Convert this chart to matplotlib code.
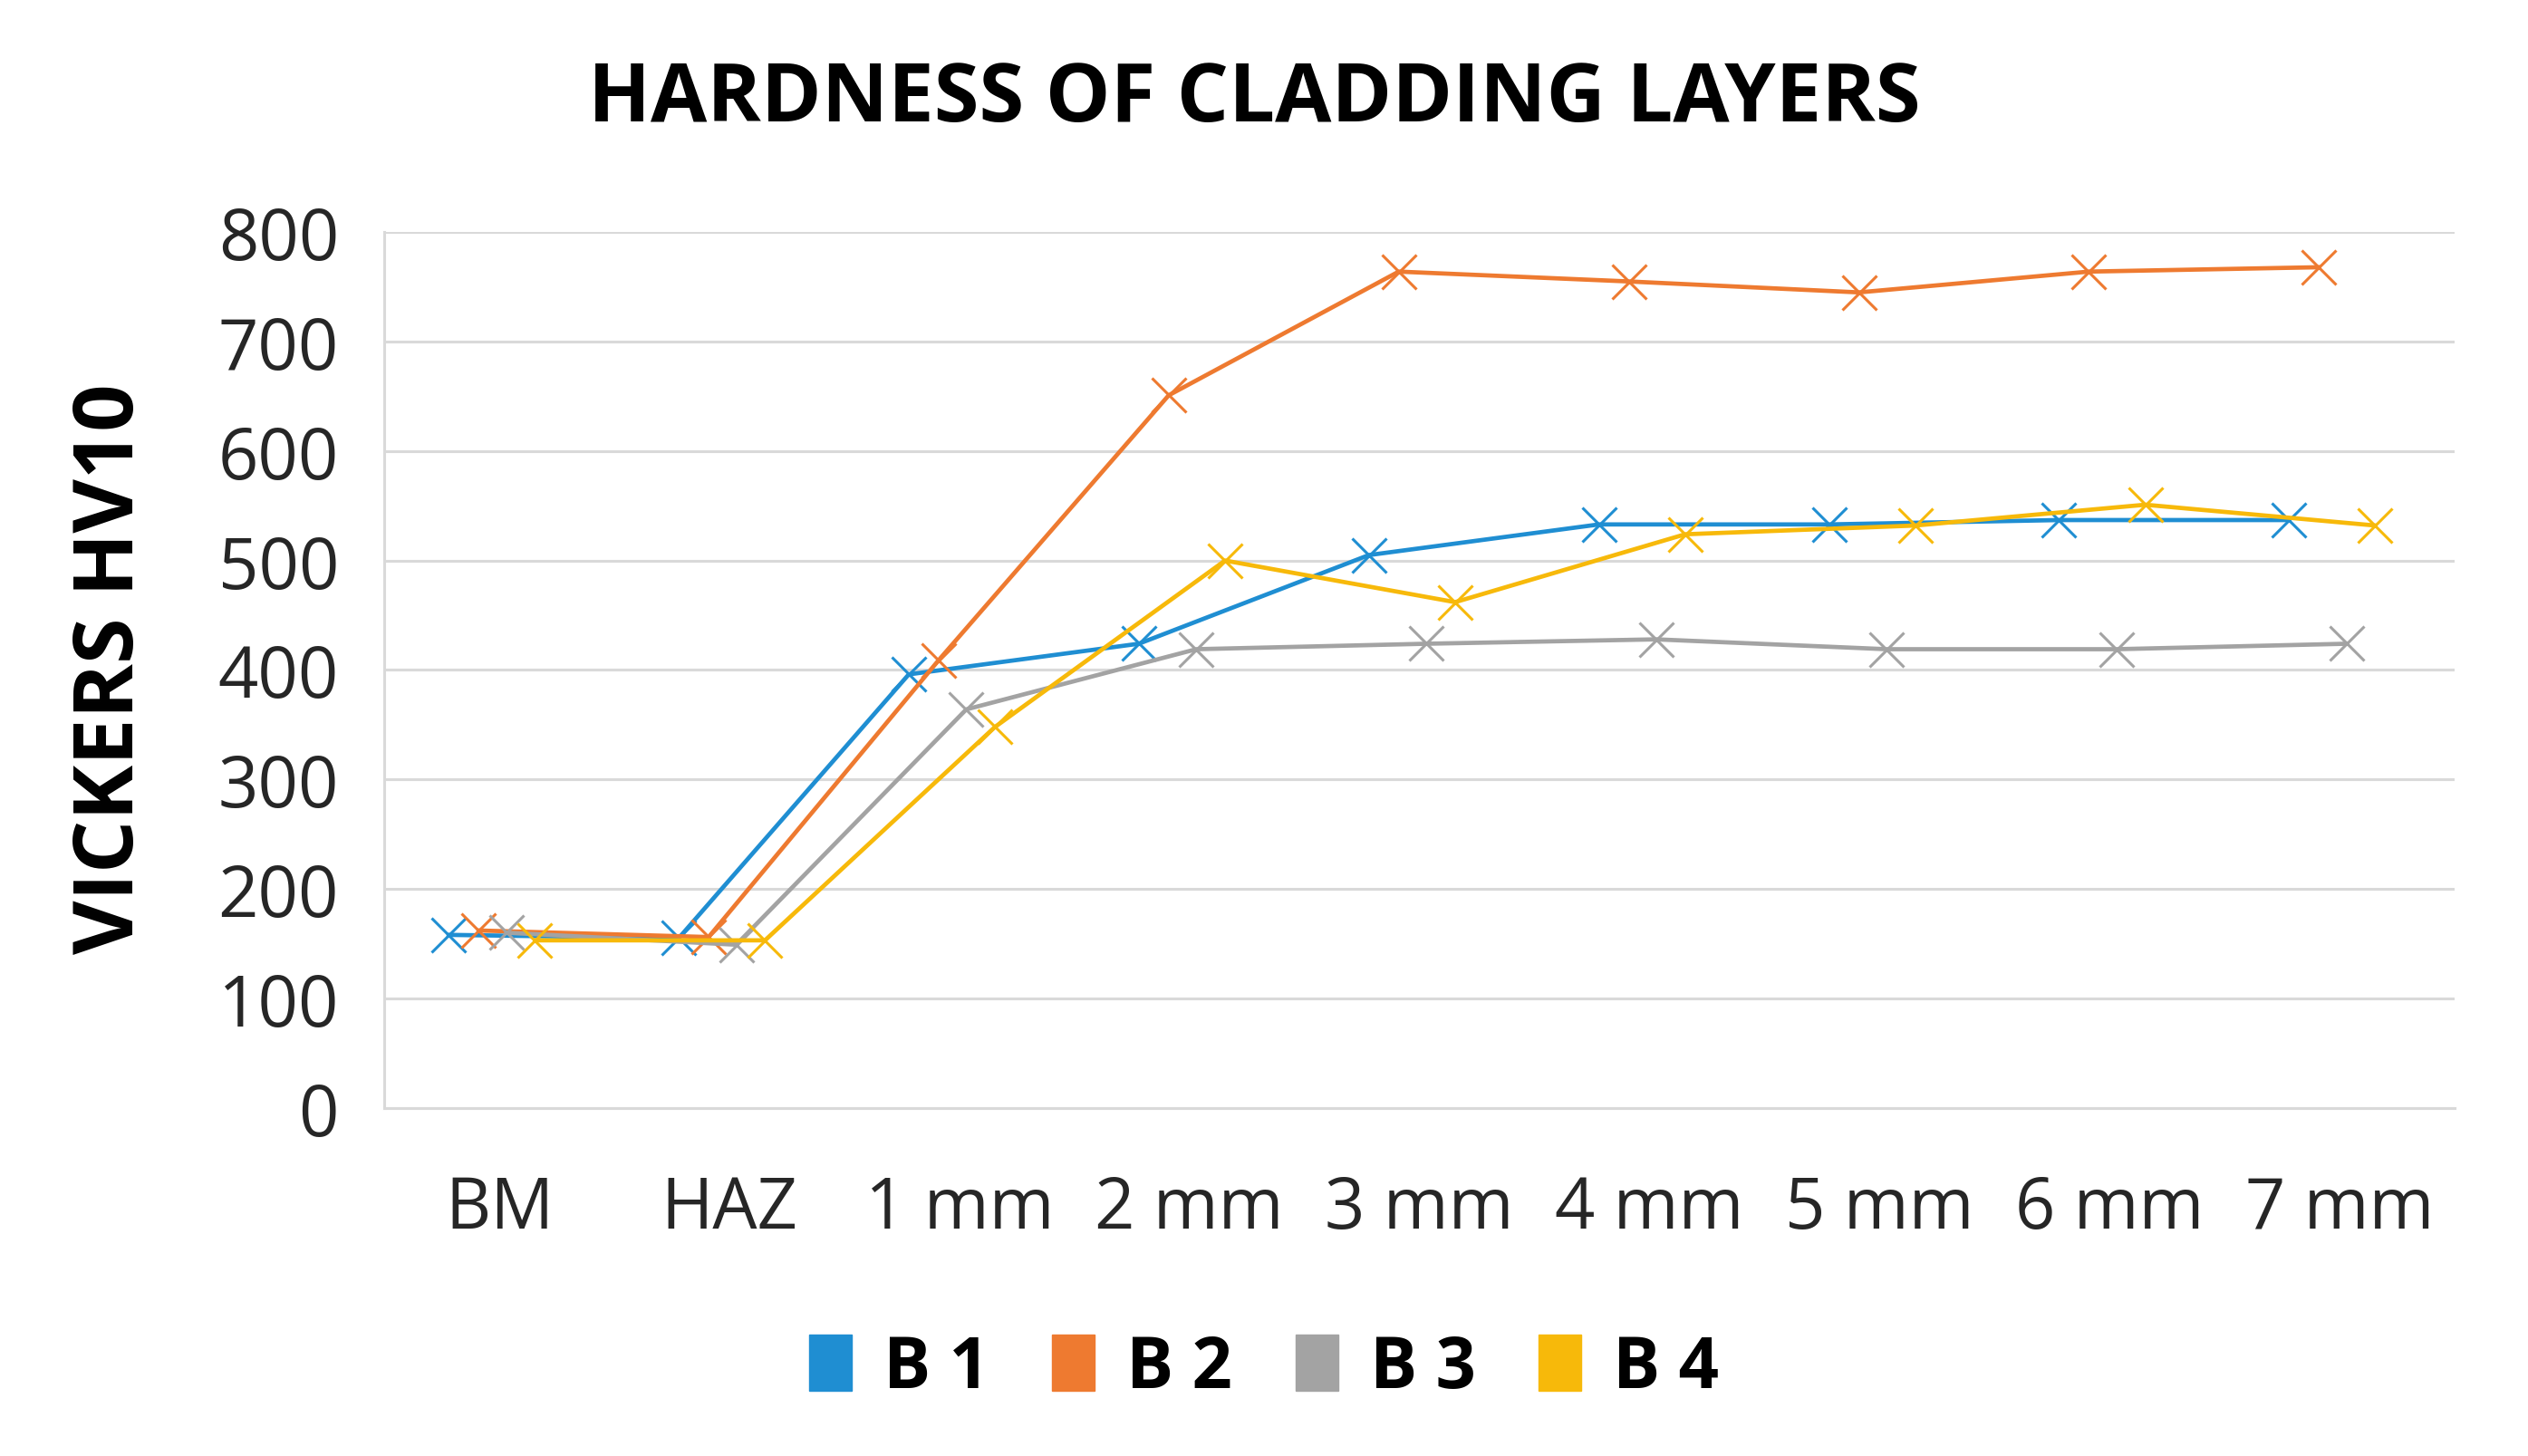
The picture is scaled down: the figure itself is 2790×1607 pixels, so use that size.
import matplotlib.pyplot as plt
from matplotlib.patches import Patch
import numpy as np

# Chart data
categories = ['BM', 'HAZ', '1 mm', '2 mm', '3 mm', '4 mm', '5 mm', '6 mm', '7 mm']
series_names = ['B 1', 'B 2', 'B 3', 'B 4']
b1_hardness = [158, 155, 396, 424, 505, 533, 533, 537, 537]
b2_hardness = [162, 156, 409, 651, 764, 755, 745, 764, 768]
b3_hardness = [160, 149, 364, 419, 424, 428, 419, 419, 424]
b4_hardness = [153, 153, 348, 500, 462, 524, 532, 551, 532]
y_ticks = [0, 100, 200, 300, 400, 500, 600, 700, 800]

# Style
series_colors = ['#1f8ed2', '#ee7a30', '#a3a3a3', '#f7b90a']
series_offsets = [-0.22, -0.09, 0.03, 0.155]      # horizontal shift inside each category
font_name = 'Open Sans'

fig = plt.figure(figsize=(27.9, 16.08), dpi=100)
ax = fig.add_axes([0.152, 0.239, 0.819, 0.601])

x_positions = np.arange(len(categories))
all_series = [b1_hardness, b2_hardness, b3_hardness, b4_hardness]
for values, color, offset in zip(all_series, series_colors, series_offsets):
    ax.plot(x_positions + offset, values, color=color, linewidth=3.4,
            marker='x', markersize=28, markeredgewidth=2.2, zorder=3)

ax.set_xlim(-0.5, len(categories) - 0.5)
ax.set_ylim(0, 800)
ax.set_yticks(y_ticks)
ax.set_xticks(x_positions)
ax.set_xticklabels(categories, fontsize=56, fontfamily=font_name, color='#262626')
ax.set_yticklabels([str(v) for v in y_ticks], fontsize=56, fontfamily=font_name, color='#262626')
ax.tick_params(axis='both', length=0)
ax.tick_params(axis='x', pad=52)
ax.tick_params(axis='y', pad=36)

ax.grid(axis='y', color='#d9d9d9', linewidth=2.2, zorder=0)
ax.set_axisbelow(True)
for side in ['top', 'right']:
    ax.spines[side].set_visible(False)
for side in ['left', 'bottom']:
    ax.spines[side].set_color('#d9d9d9')
    ax.spines[side].set_linewidth(2.2)

# Title and axis label
fig.text(0.496, 0.931, 'HARDNESS OF CLADDING LAYERS', ha='center', va='center',
         fontsize=65, fontweight='bold', fontfamily=font_name, color='black')
fig.text(0.044, 0.541, 'VICKERS HV10', ha='center', va='center', rotation=90,
         fontsize=66, fontweight='bold', fontfamily=font_name, color='black')

# Legend with square patches
handles = [Patch(facecolor=c, edgecolor=c) for c in series_colors]
legend = fig.legend(handles, series_names, loc='center', bbox_to_anchor=(0.5, 0.06),
                    ncol=4, frameon=False, handlelength=0.6, handleheight=0.85,
                    handletextpad=0.45, columnspacing=0.9,
                    prop={'family': font_name, 'weight': 'bold', 'size': 56})

fig.savefig('out.png', dpi=100, facecolor='white')
